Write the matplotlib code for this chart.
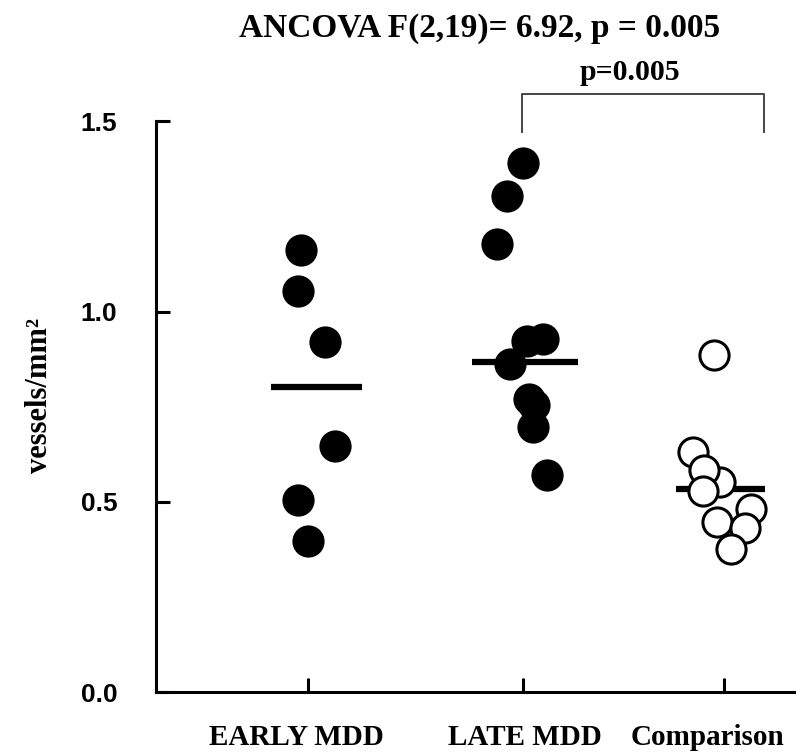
import numpy as np
import matplotlib.pyplot as plt

groups = ['EARLY MDD', 'LATE MDD', 'Comparison']
group_x = [1.0, 2.0, 2.935]
label_x = [0.944, 2.009, 2.860]

early = [1.161, 1.054, 0.920, 0.646, 0.504, 0.397]
early_dx = [-0.033, -0.048, 0.079, 0.126, -0.048, -0.001]
late = [1.389, 1.303, 1.178, 0.923, 0.929, 0.863, 0.771, 0.754, 0.697, 0.570]
late_dx = [0.0, -0.076, -0.122, 0.017, 0.093, -0.060, 0.028, 0.051, 0.047, 0.110]
comp = [0.887, 0.552, 0.631, 0.583, 0.529, 0.482, 0.447, 0.430, 0.377]
comp_dx = [-0.047, -0.019, -0.143, -0.093, -0.096, 0.124, -0.034, 0.098, 0.031]

means = [0.802, 0.866, 0.533]
mean_span = [(-0.173, 0.251), (-0.239, 0.256), (-0.225, 0.191)]

serif = ['Liberation Serif', 'DejaVu Serif']
sans = ['Liberation Sans', 'DejaVu Sans']

fig = plt.figure(figsize=(7.96, 7.54), dpi=100)
ax = fig.add_axes([0.196, 0.0822, 0.804, 0.757])

ms = 21
for i, (vals, dx) in enumerate([(early, early_dx), (late, late_dx), (comp, comp_dx)]):
    lo, hi = mean_span[i]
    ax.plot([group_x[i] + lo, group_x[i] + hi], [means[i], means[i]], color='black', lw=4.5,
            solid_capstyle='butt', zorder=2)
    face = 'white' if i == 2 else 'black'
    for v, d in zip(vals, dx):
        ax.plot(group_x[i] + d, v, 'o', ms=ms, mfc=face, mec='black', mew=2.2, zorder=3,
                clip_on=False)

ax.set_xlim(0.293, 3.270)
ax.set_ylim(0, 1.5)
ax.spines['top'].set_visible(False)
ax.spines['right'].set_visible(False)
ax.spines['left'].set_linewidth(2.2)
ax.spines['bottom'].set_linewidth(2.2)

ax.set_yticks([0.0, 0.5, 1.0, 1.5])
ax.set_yticklabels(['0.0', '0.5', '1.0', '1.5'], family=sans, fontweight='bold', fontsize=19)
ax.tick_params(axis='y', direction='in', length=10, width=2.2, pad=28)
ax.set_xticks(group_x)
ax.set_xticklabels([])
ax.tick_params(axis='x', direction='in', length=10, width=2.2)

# category labels, not centred on the ticks in the original
xform = ax.get_xaxis_transform()
for lx, name in zip(label_x, groups):
    ax.text(lx, -0.079, name, transform=xform, ha='center', va='center', family=serif,
            fontweight='bold', fontsize=21)

ax.set_ylabel('vessels/mm²', family=serif, fontweight='bold', fontsize=22)
ax.yaxis.set_label_coords(-0.16, 0.52)

# significance bracket
ax.plot([1.995, 1.995, 3.121, 3.121], [1.471, 1.571, 1.571, 1.471], color='#444444', lw=1.4,
        clip_on=False)
ax.text(2.498, 1.629, 'p=0.005', ha='center', va='center', family=serif, fontweight='bold',
        fontsize=21.5)

fig.text(480 / 796, 1 - 28 / 754, 'ANCOVA F(2,19)= 6.92, p = 0.005', ha='center', va='center',
         family=serif, fontweight='bold', fontsize=24)

fig.savefig('out.png', dpi=100)
